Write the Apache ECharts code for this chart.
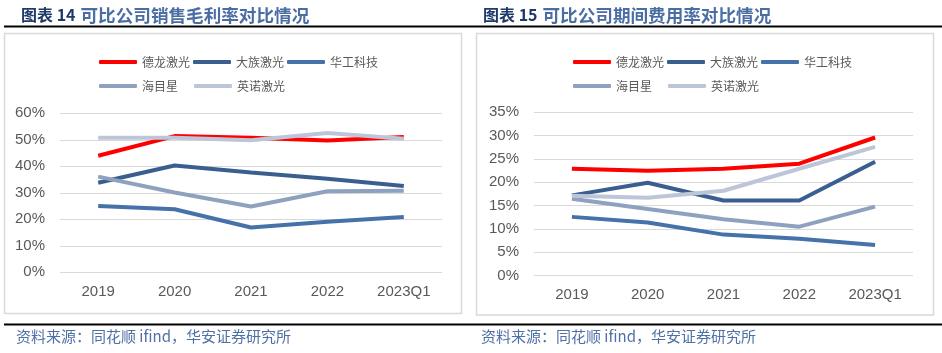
<!doctype html>
<html lang="zh">
<head>
	<meta charset="utf-8" />
	<title>可比公司对比</title>
	<script src="https://cdn.jsdelivr.net/npm/echarts@6/dist/echarts.min.js"></script>
	<style>
		html, body { margin: 0; padding: 0; background: #fff; }
		#chart { width: 942px; height: 353px; }
	</style>
</head>
<body>
	<div id="chart"></div>
	<script>
		const years = ['2019', '2020', '2021', '2022', '2023Q1'];
		const names = ['德龙激光', '大族激光', '华工科技', '海目星', '英诺激光'];
		const colors = ['#FF0000', '#3A5F8F', '#4572A9', '#8EA2C0', '#BDC6D8'];

		// 销售毛利率 (%)
		const grossDelong = [44.0, 51.4, 50.8, 49.7, 51.1];
		const grossDazu = [33.8, 40.3, 37.7, 35.3, 32.6];
		const grossHuagong = [25.0, 23.8, 16.9, 19.1, 20.9];
		const grossHaimuxing = [36.1, 30.1, 24.8, 30.6, 30.8];
		const grossInno = [50.8, 50.8, 49.8, 52.6, 50.4];

		// 期间费用率 (%)
		const expDelong = [22.9, 22.5, 22.9, 24.0, 29.6];
		const expDazu = [17.2, 19.9, 16.1, 16.1, 24.4];
		const expHuagong = [12.6, 11.4, 8.8, 7.9, 6.6];
		const expHaimuxing = [16.5, 14.3, 12.1, 10.5, 14.8];
		const expInno = [17.1, 16.7, 18.2, 22.9, 27.6];

		const gross = [grossDelong, grossDazu, grossHuagong, grossHaimuxing, grossInno];
		const expense = [expDelong, expDazu, expHuagong, expHaimuxing, expInno];

		const cjk = '"Noto Sans CJK SC", sans-serif';
		const latin = '"Liberation Sans", Arial, sans-serif';
		const titleBlue = '#4A6EA4';
		const sourceBlue = '#4E70A6';

		function makeSeries(list, idx) {
			return list.map((data, i) => ({
				name: names[i],
				type: 'line',
				xAxisIndex: idx,
				yAxisIndex: idx,
				data: data,
				symbol: 'none',
				lineStyle: { width: 4, color: colors[i] },
				itemStyle: { color: colors[i] },
				z: 2
			}));
		}

		function makeLegends(left) {
			const base = {
				icon: 'roundRect',
				itemWidth: 38,
				itemHeight: 4,
				orient: 'horizontal',
				textStyle: { fontFamily: cjk, fontSize: 12, color: '#595959' },
				selectedMode: false
			};
			return [
				Object.assign({}, base, { left: left, top: 51, itemGap: 3, data: names.slice(0, 3) }),
				Object.assign({}, base, { left: left, top: 75, itemGap: 16, data: names.slice(3) })
			];
		}

		function titleRich() {
			return {
				a: { fontFamily: cjk, fontSize: 16, fontWeight: 'bold', color: '#1F3A68' },
				b: { fontFamily: cjk, fontSize: 17.6, fontWeight: 'bold', color: titleBlue }
			};
		}

		const chart = echarts.init(document.getElementById('chart'));
		const axisLabel = { fontFamily: latin, fontSize: 15, color: '#595959' };
		const source = '资料来源：同花顺 ifind，华安证券研究所';

		chart.setOption({
			animation: false,
			title: [
				{ left: 16, top: 1, text: '{a|图表 14} {b|可比公司销售毛利率对比情况}', textStyle: { rich: titleRich() } },
				{ left: 478, top: 1, text: '{a|图表 15} {b|可比公司期间费用率对比情况}', textStyle: { rich: titleRich() } }
			],
			legend: makeLegends(94).concat(makeLegends(568)),
			grid: [
				{ left: 60, top: 113.3, width: 382, height: 159 },
				{ left: 534, top: 112.3, width: 379, height: 163.4 }
			],
			xAxis: [0, 1].map(i => ({
				type: 'category',
				gridIndex: i,
				data: years,
				boundaryGap: true,
				axisLine: { show: false },
				axisTick: { show: false },
				axisLabel: Object.assign({ margin: 12 }, axisLabel)
			})),
			yAxis: [
				{
					type: 'value', gridIndex: 0, min: 0, max: 60, interval: 10,
					axisLine: { show: false }, axisTick: { show: false },
					axisLabel: Object.assign({ margin: 15, formatter: '{value}%' }, axisLabel),
					splitLine: { lineStyle: { color: '#D9D9D9', width: 1 } }
				},
				{
					type: 'value', gridIndex: 1, min: 0, max: 35, interval: 5,
					axisLine: { show: false }, axisTick: { show: false },
					axisLabel: Object.assign({ margin: 15, formatter: '{value}%' }, axisLabel),
					splitLine: { lineStyle: { color: '#D9D9D9', width: 1 } }
				}
			],
			graphic: [
				{ type: 'line', shape: { x1: 4, y1: 26.5, x2: 942, y2: 26.5 }, style: { stroke: '#000', lineWidth: 2 } },
				{ type: 'rect', shape: { x: 4.5, y: 33.5, width: 457, height: 280 }, style: { fill: 'none', stroke: '#D9D9D9', lineWidth: 1.5 }, z: -1 },
				{ type: 'rect', shape: { x: 476.5, y: 33.5, width: 457, height: 281.5 }, style: { fill: 'none', stroke: '#D9D9D9', lineWidth: 1.5 }, z: -1 },
				{ type: 'line', shape: { x1: 4, y1: 324.5, x2: 942, y2: 324.5 }, style: { stroke: '#000', lineWidth: 2 } },
				{ type: 'text', left: 16, top: 329, style: { text: source, font: '15px ' + cjk, fill: sourceBlue } },
				{ type: 'text', left: 481, top: 329, style: { text: source, font: '15px ' + cjk, fill: sourceBlue } }
			],
			series: makeSeries(gross, 0).concat(makeSeries(expense, 1))
		});
	</script>
</body>
</html>
